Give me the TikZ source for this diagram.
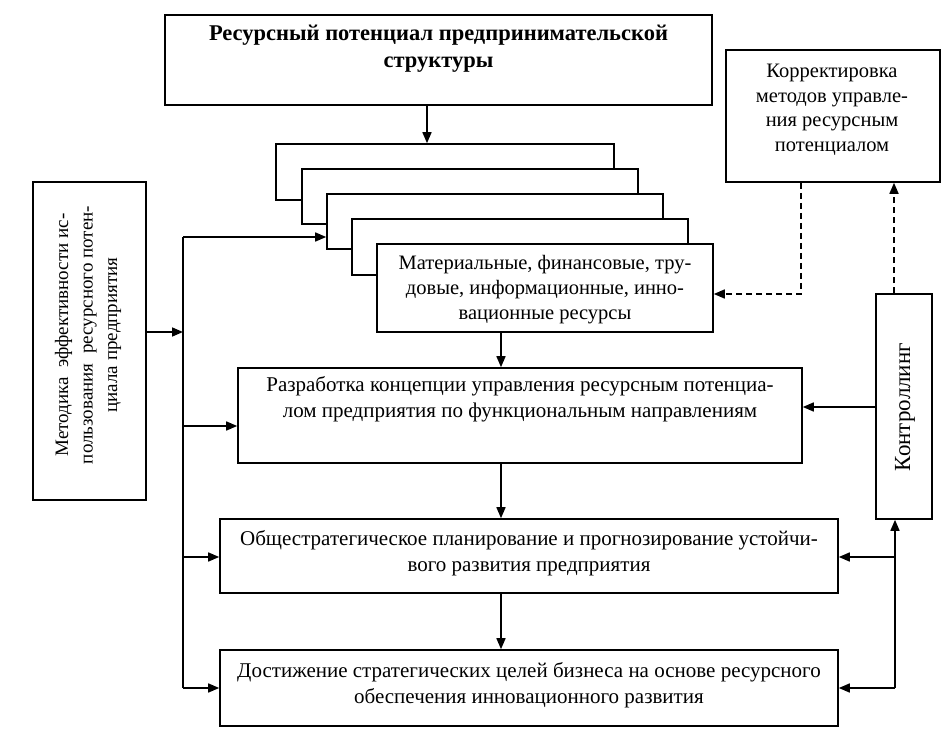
\documentclass[tikz,border=0pt]{standalone}
\usepackage{fontspec}
\setmainfont{Liberation Serif}
\usetikzlibrary{arrows.meta}
\begin{document}
\begin{tikzpicture}[x=1pt,y=-1pt,
  box/.style={draw=black, line width=1.6pt, fill=white, inner sep=0pt},
  txt/.style={align=center, inner sep=0pt, font=\fontsize{21}{26}\selectfont},
  arr/.style={line width=1.6pt, -{Triangle[length=11pt,width=9pt]}},
  darr/.style={line width=1.6pt, dash pattern=on 6pt off 4pt, -{Triangle[length=11pt,width=9pt]}},
  ln/.style={line width=1.6pt}]
\useasboundingbox (0,0) rectangle (951,751);
% boxes
\node[box, minimum width=547, minimum height=90] (top) at (438.5,60) {};
\node[txt, font=\fontsize{22.5}{27}\selectfont\bfseries] (toptxt) at (438.5,49) {Ресурсный потенциал предпринимательской\\структуры};
\node[box, minimum width=338, minimum height=56] (b1) at (445,172) {};
\node[box, minimum width=336, minimum height=55] (b2) at (470,196.5) {};
\node[box, minimum width=336, minimum height=55] (b3) at (495,221.5) {};
\node[box, minimum width=336, minimum height=56] (b4) at (520,247) {};
\node[box, minimum width=336, minimum height=88] (b5) at (545,288) {};
\node[txt, font=\fontsize{20.5}{25}\selectfont] (b5txt) at (545,290) {Материальные, финансовые, тру-\\довые, информационные, инно-\\вационные ресурсы};
\node[box, minimum width=113, minimum height=318] (meth) at (89.5,341) {};
\node[txt, rotate=90, font=\fontsize{19}{24.5}\selectfont] (methtxt) at (88,335) {Методика\ \ эффективности ис-\\пользования\ \ ресурсного потен-\\циала предприятия};
\node[box, minimum width=214, minimum height=132] (korr) at (833,116) {};
\node[txt, font=\fontsize{20.5}{24.5}\selectfont] (korrtxt) at (832,110) {Корректировка\\методов управле-\\ния ресурсным\\потенциалом};
\node[box, minimum width=56, minimum height=225] (ctrl) at (904,406.5) {};
\node[txt, rotate=90, font=\fontsize{23}{26}\selectfont] (ctrltxt) at (905,407) {Контроллинг};
\node[box, minimum width=564, minimum height=95] (raz) at (520,415.5) {};
\node[txt] (raztxt) at (520,399) {Разработка концепции управления ресурсным потенциа-\\лом предприятия по функциональным направлениям};
\node[box, minimum width=618, minimum height=74] (obs) at (529,556) {};
\node[txt] (obstxt) at (529,553) {Общестратегическое планирование и прогнозирование устойчи-\\вого развития предприятия};
\node[box, minimum width=618, minimum height=76] (dos) at (529,688) {};
\node[txt] (dostxt) at (529,685) {Достижение стратегических целей бизнеса на основе ресурсного\\обеспечения инновационного развития};
% helper coordinates
\coordinate (xa) at (427,0);
\coordinate (xm) at (501,0);
\coordinate (lv) at (183,0);
\coordinate (rv) at (895,0);
\coordinate (xd) at (801,0);
\coordinate (xu) at (894,0);
\coordinate (y1) at (0,237);
\coordinate (y2) at (0,332);
\coordinate (y3) at (0,426);
\coordinate (y4) at (0,557);
\coordinate (y5) at (0,688);
\coordinate (y6) at (0,294);
\coordinate (y7) at (0,407);
% connectors
\draw[arr] (xa |- top.south) -- (xa |- b1.north);
\draw[arr] (xm |- b5.south) -- (xm |- raz.north);
\draw[arr] (xm |- raz.south) -- (xm |- obs.north);
\draw[arr] (xm |- obs.south) -- (xm |- dos.north);
\draw[ln] (lv |- y1) -- (lv |- y5);
\draw[arr] (lv |- y1) -- (b3.west |- y1);
\draw[arr] (meth.east |- y2) -- (lv |- y2);
\draw[arr] (lv |- y3) -- (raz.west |- y3);
\draw[arr] (lv |- y4) -- (obs.west |- y4);
\draw[arr] (lv |- y5) -- (dos.west |- y5);
\draw[arr] (ctrl.west |- y7) -- (raz.east |- y7);
\draw[arr] (rv |- y5) -- (rv |- ctrl.south);
\draw[arr] (rv |- y4) -- (obs.east |- y4);
\draw[arr] (rv |- y5) -- (dos.east |- y5);
\draw[darr] (xd |- korr.south) -- (xd |- y6) -- (b5.east |- y6);
\draw[darr] (xu |- ctrl.north) -- (xu |- korr.south);
\end{tikzpicture}
\end{document}
